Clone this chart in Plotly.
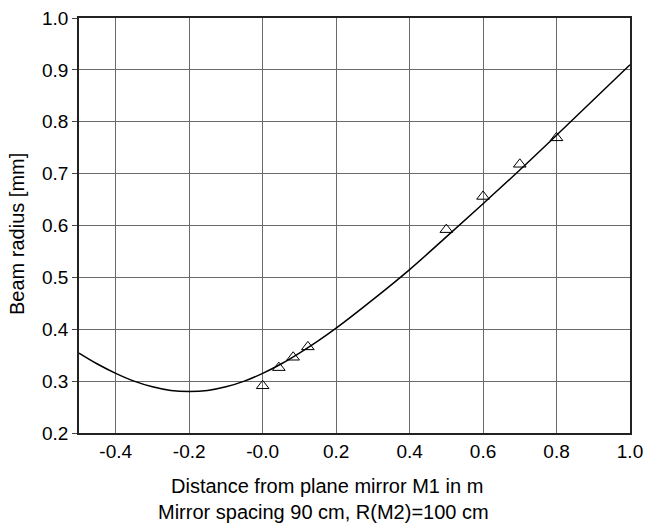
import plotly.graph_objects as go

# Fitted beam-radius curve
curve_x = [-0.5, -0.45, -0.4, -0.35, -0.3, -0.25, -0.2, -0.15, -0.1, -0.05, 0.0,
           0.05, 0.1, 0.15, 0.2, 0.3, 0.4, 0.5, 0.6, 0.7, 0.8, 0.9, 1.0]
curve_y = [0.354, 0.333, 0.315, 0.300, 0.289, 0.282, 0.280, 0.282, 0.289, 0.300, 0.315,
           0.333, 0.354, 0.377, 0.402, 0.457, 0.515, 0.578, 0.642, 0.707, 0.774, 0.842, 0.910]

# Measured points (triangles)
meas_x = [0.0, 0.044, 0.083, 0.123, 0.5, 0.6, 0.7, 0.8]
meas_y = [0.291, 0.326, 0.346, 0.366, 0.592, 0.656, 0.718, 0.769]

x_ticks = [-0.4, -0.2, 0.0, 0.2, 0.4, 0.6, 0.8, 1.0]
x_ticklabels = ["-0.4", "-0.2", "-0.0", "0.2", "0.4", "0.6", "0.8", "1.0"]
y_ticks = [0.2, 0.3, 0.4, 0.5, 0.6, 0.7, 0.8, 0.9, 1.0]
y_ticklabels = ["0.2", "0.3", "0.4", "0.5", "0.6", "0.7", "0.8", "0.9", "1.0"]

FONT = "Liberation Sans, Arial, Helvetica, sans-serif"
FS_TICK = 19
FS_TITLE = 20

W, H = 648, 523
L, R, T, B = 79, 18, 18, 90
pw, ph = W - L - R, H - T - B


def px_x(p):
    return (p - L) / pw


def px_y(p):
    return (H - B - p) / ph


fig = go.Figure()
fig.add_trace(go.Scatter(x=curve_x, y=curve_y, mode="lines",
                         line=dict(color="black", width=1.5, shape="spline"),
                         showlegend=False, hoverinfo="skip"))
fig.add_trace(go.Scatter(x=meas_x, y=meas_y, mode="markers",
                         marker=dict(symbol="triangle-up-open", size=11, color="black",
                                     line=dict(width=1, color="black")),
                         showlegend=False))

fig.update_layout(
    width=W, height=H,
    margin=dict(l=L, r=R, t=T, b=B, autoexpand=False),
    paper_bgcolor="white", plot_bgcolor="white",
    font=dict(family=FONT, size=FS_TICK, color="black"),
    xaxis=dict(range=[-0.5, 1.0], tickvals=x_ticks, ticktext=x_ticklabels,
               showgrid=True, gridcolor="#6a6a6a", gridwidth=1, zeroline=False,
               showline=True, linecolor="#222", linewidth=1.5, mirror=True,
               ticks="", automargin=False, tickfont=dict(size=FS_TICK)),
    yaxis=dict(range=[0.2, 1.0], tickvals=y_ticks, ticktext=y_ticklabels,
               showgrid=True, gridcolor="#6a6a6a", gridwidth=1, zeroline=False,
               showline=True, linecolor="#222", linewidth=1.5, mirror=True,
               ticks="outside", ticklen=5, tickcolor="#444", automargin=False,
               tickfont=dict(size=FS_TICK)),
    annotations=[
        dict(text="Beam radius [mm]", xref="paper", yref="paper",
             x=px_x(17), y=px_y(234), xanchor="center", yanchor="middle", textangle=-90,
             showarrow=False, font=dict(size=FS_TITLE)),
        dict(text="Distance from plane mirror M1 in m", xref="paper", yref="paper",
             x=px_x(327), y=px_y(486), xanchor="center", yanchor="middle",
             showarrow=False, font=dict(size=FS_TITLE)),
        dict(text="Mirror spacing 90 cm, R(M2)=100 cm", xref="paper", yref="paper",
             x=px_x(323), y=px_y(512), xanchor="center", yanchor="middle",
             showarrow=False, font=dict(size=FS_TITLE)),
    ],
)

fig.write_html("out.html", config={"displayModeBar": False},
               post_script="document.body.style.margin='0';document.body.style.overflow='hidden';")
